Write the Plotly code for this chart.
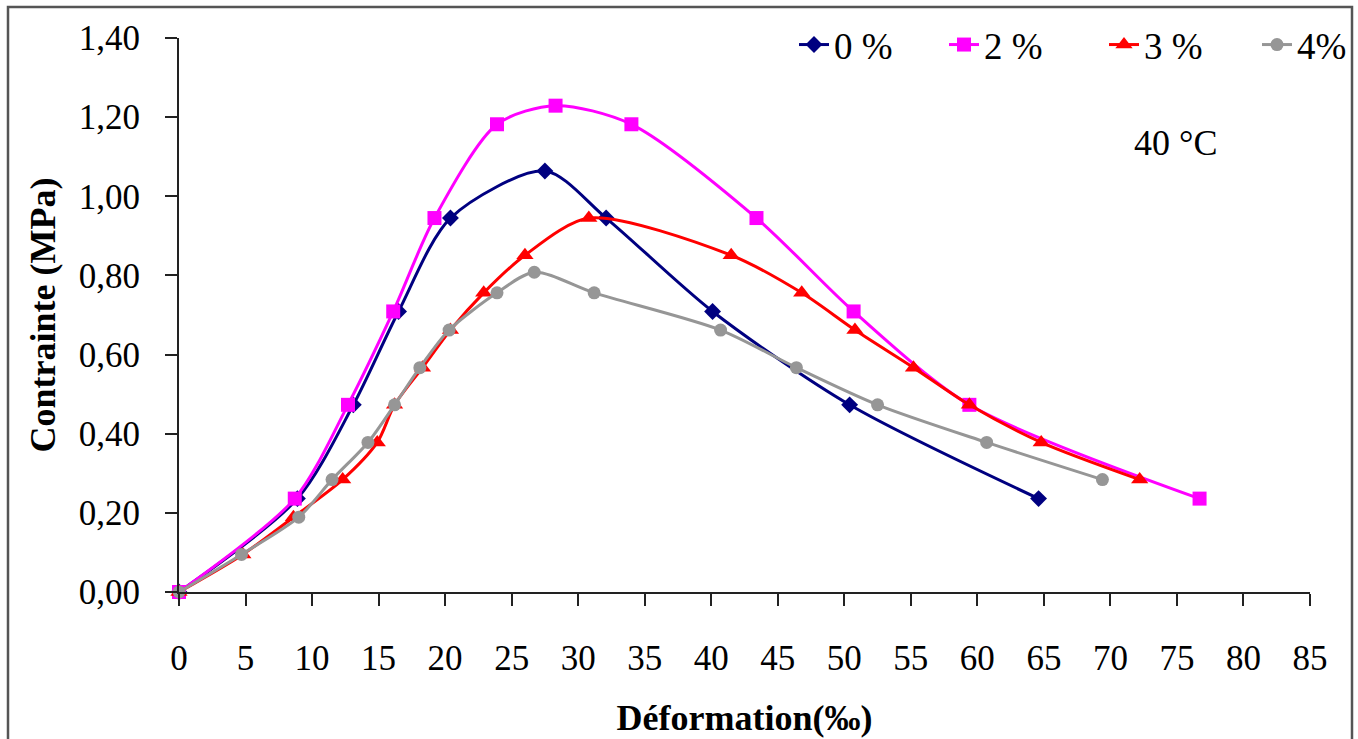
import plotly.graph_objects as go

# ---- data ----
series_names = ["0 %", "2 %", "3 %", "4%"]

x_0 = [0, 8.9, 13.1, 16.5, 20.4, 27.5, 32.1, 40.1, 50.4, 64.6]
y_0 = [0, 0.236, 0.473, 0.709, 0.945, 1.064, 0.945, 0.709, 0.473, 0.236]

x_2 = [0, 8.7, 12.7, 16.1, 19.2, 23.9, 28.3, 34.0, 43.4, 50.7, 59.4, 76.7]
y_2 = [0, 0.236, 0.473, 0.709, 0.945, 1.182, 1.229, 1.182, 0.945, 0.709, 0.473, 0.236]

x_3 = [0, 4.8, 8.6, 12.3, 14.9, 16.2, 18.3, 20.4, 22.9, 26.0, 30.8, 41.5, 46.8, 50.8, 55.2, 59.4, 64.8, 72.2]
y_3 = [0, 0.095, 0.189, 0.284, 0.378, 0.473, 0.567, 0.662, 0.756, 0.851, 0.945, 0.851, 0.756, 0.662, 0.567, 0.473, 0.378, 0.284]

x_4 = [0, 4.7, 9.0, 11.5, 14.2, 16.2, 18.1, 20.3, 23.9, 26.7, 31.2, 40.7, 46.4, 52.5, 60.7, 69.4]
y_4 = [0, 0.095, 0.189, 0.284, 0.378, 0.473, 0.567, 0.662, 0.756, 0.808, 0.756, 0.662, 0.567, 0.473, 0.378, 0.284]

x_ticks = list(range(0, 90, 5))
y_ticks = [0, 0.2, 0.4, 0.6, 0.8, 1.0, 1.2, 1.4]

colors = ["#000080", "#FF00FF", "#FF0000", "#969696"]
symbols = ["diamond", "square", "triangle-up", "circle"]
msizes = [13, 14, 15, 13]

FONT = "Liberation Serif, Times New Roman, serif"

# plot-area geometry (pixels)
L, R, T, B = 179, 1310, 38, 592
PW, PH = R - L, B - T

legend_ids = ["legend", "legend2", "legend3", "legend4"]
legend_px = [794, 944, 1104, 1257]

fig = go.Figure()
for name, xs, ys, c, s, ms, lid in zip(series_names, [x_0, x_2, x_3, x_4], [y_0, y_2, y_3, y_4],
                                        colors, symbols, msizes, legend_ids):
    fig.add_trace(go.Scatter(
        x=xs, y=ys, name=name, mode="lines+markers",
        line=dict(color=c, width=3, shape="spline", smoothing=0.8),
        marker=dict(color=c, symbol=s, size=ms, line=dict(width=0)),
        cliponaxis=False, legend=lid,
    ))

legends = {}
for lid, px in zip(legend_ids, legend_px):
    legends[lid] = dict(
        orientation="h", x=(px - L) / PW, xanchor="left",
        y=(B - 45) / PH, yanchor="middle",
        font=dict(family=FONT, size=37, color="black"),
        bgcolor="rgba(0,0,0,0)", itemwidth=30,
    )

fig.update_layout(
    width=1358, height=739,
    margin=dict(l=L, r=1358 - R, t=T, b=739 - B, autoexpand=False),
    paper_bgcolor="white", plot_bgcolor="white",
    separators=", ",
    font=dict(family=FONT, size=34, color="black"),
    showlegend=True,
    xaxis=dict(
        range=[0, 85], tickvals=x_ticks, ticktext=[str(v) for v in x_ticks],
        showgrid=False, zeroline=False,
        showline=True, linecolor="#222", linewidth=2,
        ticks="outside", ticklen=12, tickwidth=1.5, tickcolor="#222",
        tickfont=dict(family=FONT, size=35, color="black"),
        ticklabelstandoff=22,
        title=dict(text="<b>Déformation(‰)</b>", font=dict(family=FONT, size=36, color="black"),
                   standoff=28),
    ),
    yaxis=dict(
        range=[0, 1.4], tickvals=y_ticks, tickformat=".2f",
        showgrid=False, zeroline=False,
        showline=True, linecolor="#222", linewidth=2,
        ticks="outside", ticklen=12, tickwidth=1.5, tickcolor="#222",
        tickfont=dict(family=FONT, size=35, color="black"),
        ticklabelstandoff=18,
        title=dict(text="<b>Contrainte (MPa)</b>", font=dict(family=FONT, size=36, color="black"),
                   standoff=12),
    ),
    annotations=[dict(
        text="40 °C", xref="paper", yref="paper",
        x=(1175 - L) / PW, y=(B - 143) / PH,
        xanchor="center", yanchor="middle", showarrow=False,
        font=dict(family=FONT, size=36, color="black"),
    )],
    shapes=[dict(
        type="rect", xref="paper", yref="paper",
        x0=(8 - L) / PW, x1=(1352 - L) / PW,
        y0=(B - 760) / PH, y1=(B - 7) / PH,
        line=dict(color="#555", width=2.5), fillcolor="rgba(0,0,0,0)", layer="below",
    )],
    **legends,
)

fig.write_html("out.html")
